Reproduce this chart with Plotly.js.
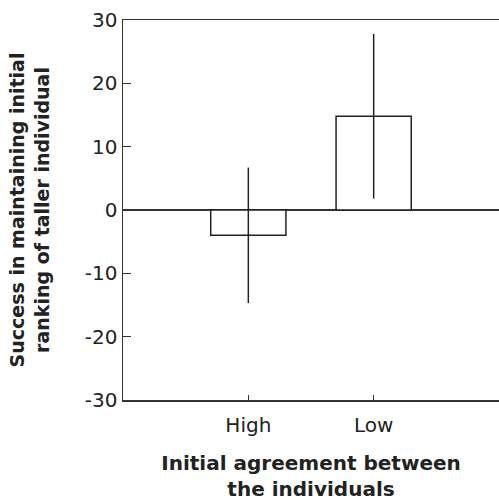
<!DOCTYPE html>
<html><head><meta charset="utf-8">
<script src="https://cdn.plot.ly/plotly-3.0.1.min.js"></script>
<style>html,body{margin:0;padding:0;background:#fff}</style>
</head><body><div id="chart" style="width:499px;height:501px"></div>
<script>
const categories = ["High", "Low"];
const means = [-4, 14.8];
const errors = [10.7, 13.0];
const yTickVals = [-30, -20, -10, 0, 10, 20, 30];
const yTickText = ["-30", "-20", "-10", "0", "10", "20", "30"];

const axisColor = "#333";
const fontFam = "DejaVu Sans, Liberation Sans, Arial, sans-serif";

Plotly.newPlot("chart", [{
  type: "bar",
  x: [0, 1],
  y: means,
  width: 0.6,
  marker: {color: "#fff", line: {color: "#222", width: 1.5}},
  error_y: {type: "data", array: errors, visible: true, color: "#222", thickness: 1.5, width: 0},
  hoverinfo: "none"
}], {
  width: 499, height: 501,
  margin: {l: 123, r: 0, t: 20, b: 101},
  paper_bgcolor: "#fff", plot_bgcolor: "#fff",
  showlegend: false,
  font: {family: fontFam, color: "#222", size: 20},
  xaxis: {
    range: [-1, 2],
    tickvals: [0, 1], ticktext: categories,
    ticks: "inside", ticklen: 5, tickwidth: 1.5, tickcolor: axisColor,
    ticklabelstandoff: 6,
    showline: true, linecolor: axisColor, linewidth: 1.5, mirror: true,
    showgrid: false, zeroline: false,
    tickfont: {size: 20},
    title: {text: "<b>Initial agreement between<br>the individuals</b>", font: {size: 20}, standoff: 20}
  },
  yaxis: {
    range: [-30, 30],
    tickvals: yTickVals, ticktext: yTickText,
    ticks: "inside", ticklen: 8, tickwidth: 1.5, tickcolor: axisColor,
    showline: true, linecolor: axisColor, linewidth: 1.5, mirror: false,
    showgrid: false, zeroline: true, zerolinecolor: axisColor, zerolinewidth: 1.5,
    tickfont: {size: 20},
    title: {text: "<b>Success in maintaining initial<br>ranking of taller individual</b>", font: {size: 19}, standoff: 30}
  }
}, {displayModeBar: false, staticPlot: true});
</script></body></html>
